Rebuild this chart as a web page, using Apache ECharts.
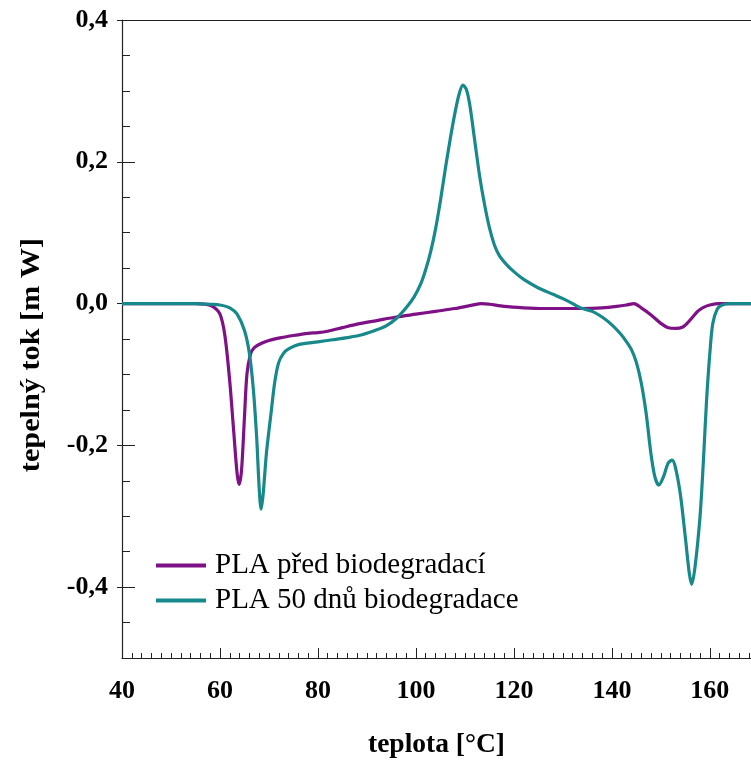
<!DOCTYPE html>
<html>
<head>
<meta charset="utf-8">
<script src="https://cdn.jsdelivr.net/npm/echarts@6/dist/echarts.min.js"></script>
<style>html,body{margin:0;padding:0;background:#fff;}#c{width:751px;height:760px;}</style>
</head>
<body>
<div id="c"></div>
<script>
// ---- data ----
var seriesNames = ['PLA před biodegradací', 'PLA 50 dnů biodegradace'];
var tempA = [40,50,55,57,58.5,60,61,62,62.8,63.5,63.9,64.4,65,65.5,66.2,67,68.5,70,72.5,75,78,80,82,85,88,92,96,100,104,108,111,113.5,115,118,122,126,130,134,138,141,143,144.5,146,148,150,151.5,153,154.5,155.5,156.5,157.5,158.5,160,162,168.4];
var fluxA = [0,0,0,-0.001,-0.004,-0.015,-0.045,-0.11,-0.18,-0.24,-0.255,-0.235,-0.16,-0.1,-0.072,-0.062,-0.056,-0.052,-0.048,-0.045,-0.042,-0.041,-0.039,-0.034,-0.029,-0.024,-0.019,-0.015,-0.011,-0.007,-0.003,0.0,-0.001,-0.004,-0.006,-0.007,-0.007,-0.007,-0.006,-0.004,-0.002,0.0,-0.006,-0.016,-0.028,-0.034,-0.035,-0.033,-0.027,-0.019,-0.011,-0.006,-0.002,0,0];
var tempB = [40,55,58,60,62,63.5,65,66,66.8,67.5,68,68.4,68.8,69.5,70.4,71.2,72,73,74,76,80,83,86,89,92,94,96,98,99.6,101,102,103,104,105,106,107,108,108.8,109.6,110.3,111,112,113,114,115,116,117,118.5,120,122,125,128,130,132,133,134,136,138,140,141.8,143,144,145,146,147,148,148.8,149.6,150.5,151.5,152.3,153,154,155,155.8,156.3,157,158,158.7,159.3,160,160.6,161.5,162.5,164,168.4];
var fluxB = [0,0,-0.001,-0.002,-0.006,-0.015,-0.038,-0.07,-0.12,-0.19,-0.26,-0.29,-0.27,-0.21,-0.156,-0.11,-0.083,-0.07,-0.064,-0.058,-0.054,-0.051,-0.048,-0.044,-0.037,-0.031,-0.021,-0.006,0.009,0.028,0.048,0.073,0.105,0.145,0.19,0.232,0.27,0.295,0.308,0.302,0.28,0.23,0.18,0.14,0.107,0.083,0.068,0.055,0.045,0.034,0.022,0.013,0.007,0.0,-0.004,-0.007,-0.011,-0.019,-0.03,-0.043,-0.054,-0.065,-0.083,-0.112,-0.155,-0.213,-0.245,-0.256,-0.245,-0.225,-0.221,-0.232,-0.27,-0.33,-0.38,-0.396,-0.37,-0.3,-0.22,-0.14,-0.07,-0.028,-0.008,-0.002,0,0];
var xTicks = [40,60,80,100,120,140,160];
var yTicks = [-0.4,-0.2,0,0.2,0.4];
var xName = 'teplota [°C]';
var yName = 'tepelný tok [m W]';

function pairs(xs, ys){ var o=[]; for(var i=0;i<xs.length;i++){o.push([xs[i],ys[i]]);} return o; }
var xMinor=[]; for (var v=40; v<=168; v+=2) xMinor.push(v);
var yMinor=[]; for (var k=-10; k<=8; k++) yMinor.push(Math.round(k*5)/100);

var font = 'Liberation Serif';
var XMIN=40, XMAX=168.4, YMIN=-0.5, YMAX=0.4;
var axisCol = '#222';
var chart = echarts.init(document.getElementById('c'), null, {renderer:'canvas'});
chart.setOption({
  animation:false,
  backgroundColor:'#fff',
  grid:{left:122, top:20, right:0, bottom:102, containLabel:false, outerBoundsMode:'none'},
  legend:{
    orient:'vertical', left:151, top:546, icon:'rect', itemWidth:50, itemHeight:4, itemGap:6,
    textStyle:{fontFamily:font, fontSize:29, color:'#000', padding:[0,0,0,4]},
    data:seriesNames
  },
  xAxis:[
    {type:'value', position:'bottom', min:XMIN, max:XMAX, interval:20,
     axisLine:{show:true, onZero:false, lineStyle:{color:axisCol, width:1.2}},
     axisTick:{show:true, inside:true, length:10, customValues:xTicks, lineStyle:{color:axisCol}},
     axisLabel:{customValues:xTicks, fontFamily:font, fontWeight:'bold', fontSize:26, color:'#000', margin:20,
       formatter:function(v){return String(v);}},
     splitLine:{show:false},
     name:xName, nameLocation:'middle', nameGap:73,
     nameTextStyle:{fontFamily:font, fontWeight:'bold', fontSize:27.5, color:'#000'}},
    {type:'value', position:'bottom', min:XMIN, max:XMAX, interval:2,
     axisLine:{show:false, onZero:false}, axisTick:{show:true, inside:true, length:5, customValues:xMinor, lineStyle:{color:axisCol}},
     axisLabel:{show:false}, splitLine:{show:false}},
    {type:'value', position:'top', min:XMIN, max:XMAX,
     axisLine:{show:true, onZero:false, lineStyle:{color:axisCol, width:1.2}}, axisTick:{show:false}, axisLabel:{show:false}, splitLine:{show:false}}
  ],
  yAxis:[
    {type:'value', position:'left', min:YMIN, max:YMAX, interval:0.05,
     axisLine:{show:true, onZero:false, lineStyle:{color:axisCol, width:1.2}},
     axisTick:{show:true, inside:true, length:13, customValues:yTicks, lineStyle:{color:axisCol}},
     axisLabel:{customValues:yTicks, fontFamily:font, fontWeight:'bold', fontSize:26, color:'#000', margin:14,
       formatter:function(v){return v.toFixed(1).replace('.', ',');}},
     splitLine:{show:false}},
    {type:'value', position:'left', min:YMIN, max:YMAX, interval:0.05,
     axisLine:{show:false, onZero:false}, axisTick:{show:true, inside:true, length:8, customValues:yMinor, lineStyle:{color:axisCol}},
     axisLabel:{show:false}, splitLine:{show:false}},
    {type:'value', position:'left', min:YMIN, max:YMAX, interval:0.05,
     axisLine:{show:false, onZero:false}, axisTick:{show:true, inside:false, length:5, customValues:yTicks, lineStyle:{color:axisCol}},
     axisLabel:{show:false}, splitLine:{show:false}}
  ],
  graphic:[
    {type:'text', x:32, y:355, rotation:Math.PI/2, scaleX:1.08,
     style:{text:yName, fontFamily:font, fontWeight:'bold', fontSize:28, fill:'#000', align:'center', verticalAlign:'middle'}}
  ],
  series:[
    {name:seriesNames[0], type:'line', xAxisIndex:0, yAxisIndex:0, data:pairs(tempA,fluxA), smooth:0.3, symbol:'none',
     lineStyle:{color:'#7e1186', width:3.2}, itemStyle:{color:'#7e1186'}, z:3},
    {name:seriesNames[1], type:'line', xAxisIndex:0, yAxisIndex:0, data:pairs(tempB,fluxB), smooth:0.3, symbol:'none',
     lineStyle:{color:'#17898a', width:3.2}, itemStyle:{color:'#17898a'}, z:4}
  ]
});
</script>
</body>
</html>
